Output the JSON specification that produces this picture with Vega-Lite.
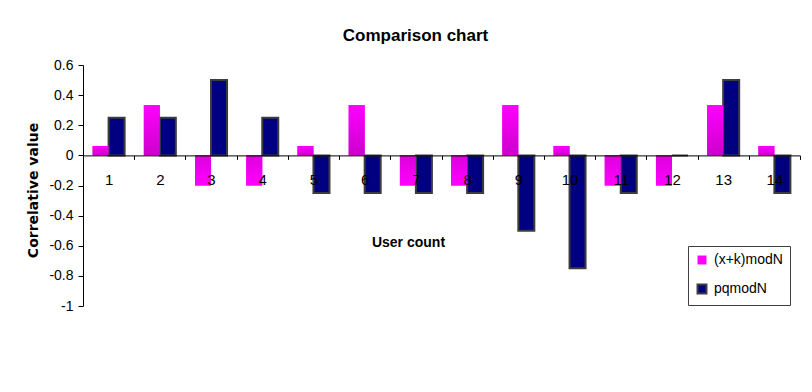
{
  "$schema": "https://vega.github.io/schema/vega-lite/v6.json",
  "width": 717,
  "height": 241,
  "autosize": {"type": "none"},
  "padding": {"left": 83, "top": 65, "right": 12, "bottom": 86},
  "background": "white",
  "config": {
    "view": {"stroke": null},
    "font": "Liberation Sans",
    "axis": {"domainColor": "black", "tickColor": "black", "labelColor": "black", "titleColor": "black", "grid": false, "labelFont": "Liberation Sans"}
  },
  "title": {
    "text": "Comparison chart",
    "font": "Liberation Sans",
    "fontSize": 17,
    "fontWeight": "bold",
    "color": "black",
    "anchor": "middle",
    "dx": -26,
    "offset": 13
  },
  "data": {
    "values": [
      {"user": 1, "series": "(x+k)modN", "value": 0.0625},
      {"user": 2, "series": "(x+k)modN", "value": 0.3333},
      {"user": 3, "series": "(x+k)modN", "value": -0.2},
      {"user": 4, "series": "(x+k)modN", "value": -0.2},
      {"user": 5, "series": "(x+k)modN", "value": 0.0625},
      {"user": 6, "series": "(x+k)modN", "value": 0.3333},
      {"user": 7, "series": "(x+k)modN", "value": -0.2},
      {"user": 8, "series": "(x+k)modN", "value": -0.2},
      {"user": 9, "series": "(x+k)modN", "value": 0.3333},
      {"user": 10, "series": "(x+k)modN", "value": 0.0625},
      {"user": 11, "series": "(x+k)modN", "value": -0.2},
      {"user": 12, "series": "(x+k)modN", "value": -0.2},
      {"user": 13, "series": "(x+k)modN", "value": 0.3333},
      {"user": 14, "series": "(x+k)modN", "value": 0.0625},
      {"user": 1, "series": "pqmodN", "value": 0.25},
      {"user": 2, "series": "pqmodN", "value": 0.25},
      {"user": 3, "series": "pqmodN", "value": 0.5},
      {"user": 4, "series": "pqmodN", "value": 0.25},
      {"user": 5, "series": "pqmodN", "value": -0.25},
      {"user": 6, "series": "pqmodN", "value": -0.25},
      {"user": 7, "series": "pqmodN", "value": -0.25},
      {"user": 8, "series": "pqmodN", "value": -0.25},
      {"user": 9, "series": "pqmodN", "value": -0.5},
      {"user": 10, "series": "pqmodN", "value": -0.75},
      {"user": 11, "series": "pqmodN", "value": -0.25},
      {"user": 12, "series": "pqmodN", "value": 0},
      {"user": 13, "series": "pqmodN", "value": 0.5},
      {"user": 14, "series": "pqmodN", "value": -0.25}
    ]
  },
  "encoding": {
    "x": {
      "field": "user",
      "type": "ordinal",
      "scale": {"paddingInner": 0, "paddingOuter": 0},
      "axis": {
        "orient": "bottom",
        "zindex": 1,
        "offset": -150.6,
        "labelAngle": 0,
        "labelFontSize": 15,
        "labelPadding": 13,
        "tickBand": "extent",
        "tickSize": 4,
        "domainWidth": 1,
        "title": "User count",
        "titleFont": "Liberation Sans",
        "titleFontSize": 14,
        "titleFontWeight": "bold",
        "titleX": 325,
        "titleY": 87,
        "titleBaseline": "middle"
      }
    },
    "y": {
      "field": "value",
      "type": "quantitative",
      "scale": {"domain": [-1, 0.6], "nice": false, "zero": false},
      "axis": {
        "values": [-1, -0.8, -0.6, -0.4, -0.2, 0, 0.2, 0.4, 0.6],
        "labelExpr": "datum.value == 0 ? '0' : (datum.value < 0 ? '-' + format(-datum.value, '.1~f') : format(datum.value, '.1~f'))",
        "labelFontSize": 14,
        "labelPadding": 5,
        "tickSize": 5,
        "title": "Correlative value",
        "titleFont": "DejaVu Sans",
        "titleFontSize": 14,
        "titleFontWeight": "bold",
        "titleX": -50,
        "titleY": 125,
        "titleBaseline": "middle"
      }
    },
    "xOffset": {
      "field": "series",
      "type": "nominal",
      "scale": {"domain": ["(x+k)modN", "pqmodN"], "paddingInner": 0, "paddingOuter": 0.6}
    }
  },
  "layer": [
    {
      "mark": {"type": "bar", "strokeWidth": 2},
      "encoding": {
        "color": {
          "field": "series",
          "type": "nominal",
          "scale": {"domain": ["(x+k)modN", "pqmodN"], "range": ["#FF00FF", "#000080"]},
          "legend": {
            "title": null,
            "orient": "none",
            "legendX": 605,
            "legendY": 181,
            "strokeColor": "#404040",
            "fillColor": "white",
            "padding": 7,
            "labelFontSize": 14,
            "labelColor": "black",
            "symbolType": "square",
            "symbolSize": 80,
            "symbolOpacity": 1,
            "rowPadding": 13,
            "labelOffset": 5
          }
        },
        "stroke": {
          "field": "series",
          "type": "nominal",
          "scale": {"domain": ["(x+k)modN", "pqmodN"], "range": ["#FF00FF", "#3c3c3c"]},
          "legend": null
        },
        "strokeWidth": {
          "field": "series",
          "type": "nominal",
          "scale": {"domain": ["(x+k)modN", "pqmodN"], "range": [0, 2]},
          "legend": null
        }
      }
    },
    {
      "transform": [{"filter": "datum.series === '(x+k)modN' && datum.value > 0"}],
      "mark": {
        "type": "bar",
        "color": {
          "gradient": "linear",
          "x1": 0, "y1": 0, "x2": 0, "y2": 1,
          "stops": [{"offset": 0, "color": "#FF00FF"}, {"offset": 1, "color": "#CC00CC"}]
        }
      }
    },
    {
      "transform": [{"filter": "datum.series === '(x+k)modN' && datum.value < 0"}],
      "mark": {
        "type": "bar",
        "color": {
          "gradient": "linear",
          "x1": 0, "y1": 0, "x2": 0, "y2": 1,
          "stops": [{"offset": 0, "color": "#DD00DD"}, {"offset": 1, "color": "#FF00FF"}]
        }
      }
    }
  ]
}
